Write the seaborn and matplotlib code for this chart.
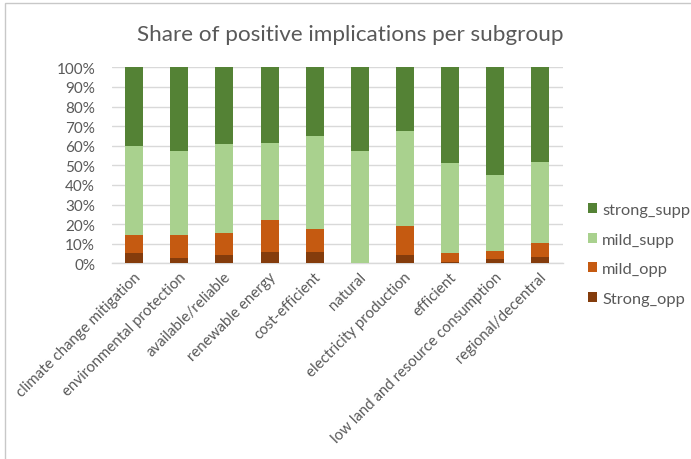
import numpy as np
import pandas as pd
import matplotlib
matplotlib.use("Agg")
import matplotlib.pyplot as plt
from matplotlib.patches import Rectangle, Patch
from matplotlib.transforms import ScaledTranslation
import seaborn as sns

categories = [
    "climate change mitigation", "environmental protection", "available/reliable",
    "renewable energy", "cost-efficient", "natural", "electricity production",
    "efficient", "low land and resource consumption", "regional/decentral",
]
strong_opp = [5.1, 2.9, 4.4, 5.8, 6.0, 0.0, 4.4, 0.9, 2.4, 3.1]
mild_opp = [9.2, 11.7, 11.1, 16.1, 11.7, 0.0, 14.6, 4.2, 4.1, 7.1]
mild_supp = [45.4, 42.9, 45.4, 39.3, 47.1, 57.3, 48.5, 46.1, 38.6, 41.5]
strong_supp = [40.3, 42.5, 39.1, 38.8, 35.2, 42.7, 32.5, 48.8, 54.9, 48.3]

series_names = ["Strong_opp", "mild_opp", "mild_supp", "strong_supp"]
series_colors = ["#843C0C", "#C55A11", "#A9D18E", "#548235"]

sns.set_theme(style="white")
plt.rcParams["font.family"] = ["Lato", "DejaVu Sans"]
text_color = "#595959"
grid_color = "#D9D9D9"

df = pd.DataFrame({
    "category": categories,
    "Strong_opp": strong_opp,
    "mild_opp": mild_opp,
    "mild_supp": mild_supp,
    "strong_supp": strong_supp,
})
# cumulative tops of each stacked segment (as fractions)
cum = df[series_names].cumsum(axis=1) / 100.0

fig = plt.figure(figsize=(6.91, 4.60), dpi=100)
ax = fig.add_axes([0.1617, 0.4254, 0.6526, 0.4261])

# draw from the tallest cumulative segment down so lower segments overlay
for name, color in reversed(list(zip(series_names, series_colors))):
    sns.barplot(x=df["category"], y=cum[name], color=color, width=0.4,
                saturation=1, ax=ax, linewidth=0, zorder=3)

ax.set_ylim(0, 1.0)
ax.set_xlim(-0.5, len(categories) - 0.5)
ax.set_yticks(np.arange(0, 1.01, 0.1))
ax.set_yticklabels([f"{int(round(v * 100))}%" for v in np.arange(0, 1.01, 0.1)])
ax.yaxis.grid(True, color=grid_color, linewidth=1.0, zorder=0)
ax.set_axisbelow(True)
ax.set_xlabel("")
ax.set_ylabel("")

for side in ["left", "right", "top"]:
    ax.spines[side].set_visible(False)
ax.spines["bottom"].set_color(grid_color)
ax.spines["bottom"].set_linewidth(1.0)

ax.tick_params(axis="y", length=0, pad=12, labelsize=11, labelcolor=text_color)
ax.tick_params(axis="x", which="major", length=0, pad=8, labelsize=10.8, labelcolor=text_color)
ax.set_xticks(np.arange(-0.5, len(categories)), minor=True)
ax.tick_params(axis="x", which="minor", length=5, width=1.0, color=grid_color)
shift = ScaledTranslation(3 / 72, 0, fig.dpi_scale_trans)
for lbl in ax.get_xticklabels():
    lbl.set_rotation(45)
    lbl.set_ha("right")
    lbl.set_va("center")
    lbl.set_rotation_mode("anchor")
    lbl.set_transform(lbl.get_transform() + shift)

fig.text(0.507, 0.924, "Share of positive implications per subgroup",
         ha="center", va="center", fontsize=16.2, color=text_color)

handles = [Patch(facecolor=c, edgecolor="none") for c in reversed(series_colors)]
leg = fig.legend(handles, list(reversed(series_names)), loc="center left",
                 bbox_to_anchor=(0.83, 0.445), frameon=False, fontsize=11.8,
                 handlelength=0.55, handleheight=0.55, handletextpad=0.3,
                 labelspacing=0.95, labelcolor=text_color)

# chart frame
fig.patches.append(Rectangle((4.5 / 691, -0.1), 1.2, 1.1 - 4.0 / 460,
                             transform=fig.transFigure, fill=False,
                             edgecolor="#C8C8C8", linewidth=1.0))

fig.savefig("out.png", dpi=100)
